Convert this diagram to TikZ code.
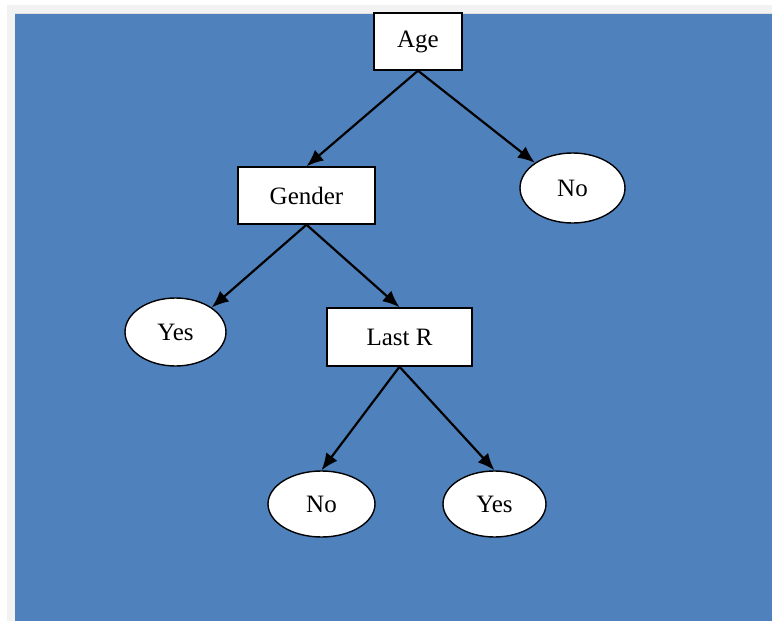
\documentclass[tikz,border=0pt]{standalone}
\usepackage{fontspec}
\setmainfont{Liberation Serif}
\usetikzlibrary{shapes.geometric,arrows.meta}
\definecolor{panelblue}{HTML}{4F81BD}
\definecolor{framegray}{HTML}{F2F2F2}
\begin{document}
\begin{tikzpicture}[x=1pt,y=-1pt,
  label font/.style={font=\fontsize{25}{29}\selectfont},
  testbox/.style={draw=black,line width=1.4pt,fill=white,rectangle,inner sep=0pt,label font},
  leaf/.style={draw=black,line width=1.4pt,fill=white,ellipse,inner sep=0pt,label font},
  branch/.style={line width=2.2pt,-{Latex[length=17pt,width=14pt]}}]
  % page, frame and panel
  \useasboundingbox (0,0) rectangle (772,621);
  \fill[white] (0,0) rectangle (772,621);
  \fill[framegray] (7,5) rectangle (772,621);
  \fill[panelblue] (15,13.5) rectangle (772,621);
  \draw[line width=1pt,color=gray!25] (15,13.5) -- (772,13.5);
  % decision nodes
  \node[testbox,minimum width=88pt,minimum height=57pt] (age) at (418,41.5) {Age};
  \node[testbox,minimum width=137pt,minimum height=57pt] (gender) at (306.5,195.5) {Gender};
  \node[testbox,minimum width=145pt,minimum height=58pt] (lastr) at (399.5,337) {Last R};
  % outcomes
  \node[leaf,minimum width=105pt,minimum height=70pt] (no1) at (572.5,188) {No};
  \node[leaf,minimum width=101pt,minimum height=68pt] (yes1) at (175.5,332) {Yes};
  \node[leaf,minimum width=107pt,minimum height=66pt] (no2) at (321.5,504) {No};
  \node[leaf,minimum width=103pt,minimum height=66pt] (yes2) at (494.5,504) {Yes};
  % branches
  \draw[branch] (age.south) -- (gender.north);
  \draw[branch] (age.south) -- (no1.north west);
  \draw[branch] (gender.south) -- (yes1.north east);
  \draw[branch] (gender.south) -- (lastr.north);
  \draw[branch] (lastr.south) -- (no2.north);
  \draw[branch] (lastr.south) -- (yes2.north);
\end{tikzpicture}
\end{document}
